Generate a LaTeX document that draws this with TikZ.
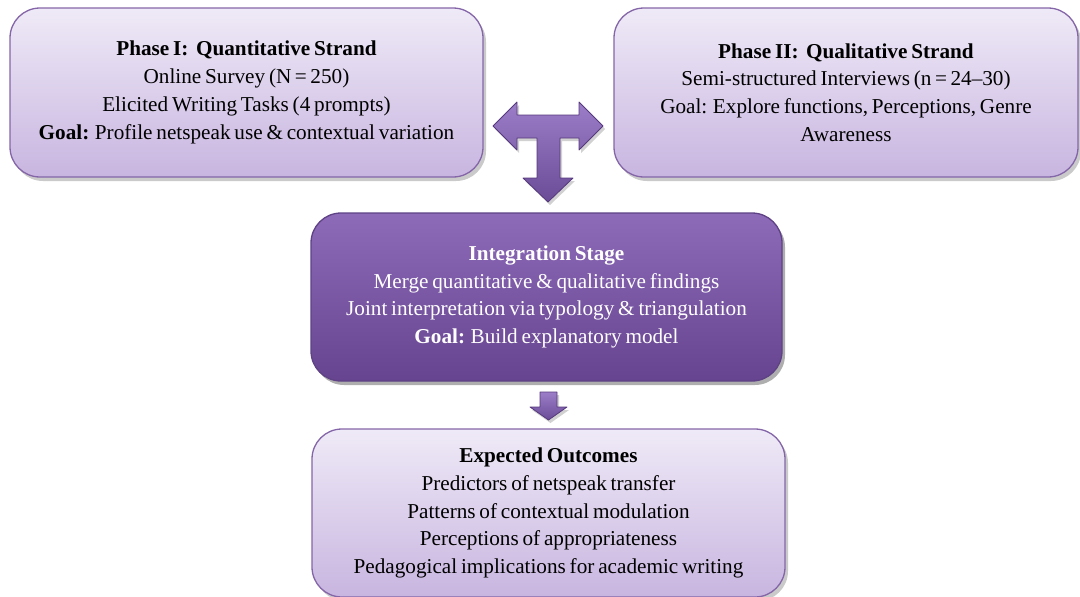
\documentclass[tikz,border=0pt]{standalone}
\usepackage{fontspec}
\setmainfont{Liberation Serif}
\usetikzlibrary{shadows}
\definecolor{lightTop}{HTML}{EFEAF7}
\definecolor{lightBot}{HTML}{C8B5E0}
\definecolor{lightEdge}{HTML}{8466A8}
\definecolor{darkTop}{HTML}{8D6BB9}
\definecolor{darkBot}{HTML}{67448F}
\definecolor{darkEdge}{HTML}{5E4285}
\definecolor{arrTop}{HTML}{9B7DC8}
\definecolor{arrBot}{HTML}{6A4B97}
\definecolor{arrEdge}{HTML}{56397C}
\newcommand{\boxfont}{\fontsize{21.2}{27.75}\selectfont\spaceskip=0.18em plus 0.05em\relax}
\tikzset{
  lightbox/.style={draw=lightEdge, line width=1.3pt, rounded corners=30pt,
    top color=lightTop, bottom color=lightBot, align=center,
    font=\boxfont, text=black,
    drop shadow={shadow xshift=3pt, shadow yshift=-4pt, opacity=0.35, fill=black!60}},
  darkbox/.style={draw=darkEdge, line width=1.3pt, rounded corners=30pt,
    top color=darkTop, bottom color=darkBot, align=center,
    font=\boxfont, text=white,
    drop shadow={shadow xshift=3pt, shadow yshift=-4pt, opacity=0.45, fill=black!70}},
  blockarrow/.style={draw=arrEdge, line width=0.8pt, line join=round,
    top color=arrTop, bottom color=arrBot,
    drop shadow={shadow xshift=2pt, shadow yshift=-3pt, opacity=0.3, fill=black!60}}
}
\begin{document}
\begin{tikzpicture}[x=1pt, y=-1pt]
\useasboundingbox (0,0) rectangle (1080,597);
\node[lightbox, minimum width=473pt, minimum height=169pt] (p1) at (246.5,92.5)
  {\textbf{Phase I:\ \ Quantitative Strand}\\
   Online Survey (N\,=\,250)\\
   Elicited Writing Tasks (4 prompts)\\
   \textbf{Goal:} Profile netspeak use \& contextual variation};
\node[lightbox, minimum width=464pt, minimum height=169pt] (p2) at (846,92.5)
  {\textbf{Phase II:\ \ Qualitative Strand}\\
   Semi-structured Interviews (n\,=\,24--30)\\
   Goal: Explore functions, Perceptions, Genre\\
   Awareness};
\node[darkbox, minimum width=471pt, minimum height=168pt] (mid) at (546.5,297)
  {\textbf{Integration Stage}\\
   Merge quantitative \& qualitative findings\\
   Joint interpretation via typology \& triangulation\\
   \textbf{Goal:} Build explanatory model};
\node[lightbox, minimum width=473pt, minimum height=168pt] (out) at (548.5,513)
  {\textbf{Expected Outcomes}\\
   Predictors of netspeak transfer\\
   Patterns of contextual modulation\\
   Perceptions of appropriateness\\
   Pedagogical implications for academic writing};
% T-shaped block arrow between the two phases and down to integration
\draw[blockarrow] (493,126) -- (517,102) -- (517,115) -- (579,115) -- (579,102)
  -- (603,126) -- (579,150) -- (579,138) -- (560,138) -- (560,178) -- (573,178)
  -- (548,202) -- (523,178) -- (537,178) -- (537,138) -- (517,138) -- (517,150) -- cycle;
% small down arrow from integration to outcomes
\draw[blockarrow] (540,392) -- (557,392) -- (557,407) -- (567,407) -- (548.5,420)
  -- (530,407) -- (540,407) -- cycle;
\end{tikzpicture}
\end{document}
